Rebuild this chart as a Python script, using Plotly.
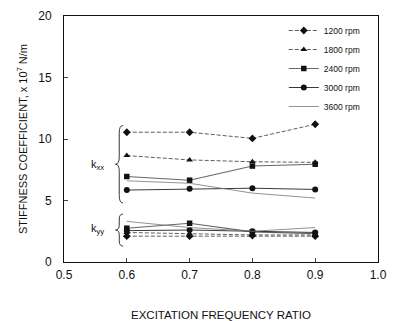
import plotly.graph_objects as go

ratio = [0.6, 0.7, 0.8, 0.9]
series_names = ["1200 rpm", "1800 rpm", "2400 rpm", "3000 rpm", "3600 rpm"]

kxx_1200 = [10.55, 10.55, 10.05, 11.2]
kxx_1800 = [8.65, 8.3, 8.15, 8.1]
kxx_2400 = [6.95, 6.65, 7.8, 7.95]
kxx_3000 = [5.85, 5.95, 6.0, 5.9]
kxx_3600 = [6.6, 6.4, 5.6, 5.2]

kyy_1200 = [2.1, 2.1, 2.15, 2.1]
kyy_1800 = [2.4, 2.3, 2.2, 2.2]
kyy_2400 = [2.75, 3.15, 2.45, 2.3]
kyy_3000 = [2.55, 2.6, 2.5, 2.4]
kyy_3600 = [3.3, 2.8, 2.5, 2.8]

x_ticks = [0.5, 0.6, 0.7, 0.8, 0.9, 1.0]
y_ticks = [0, 5, 10, 15, 20]

styles = [
    dict(symbol="diamond", dash="4px,2px", color="#333", width=0.8, msize=6),
    dict(symbol="triangle-up", dash="4px,2px", color="#333", width=0.8, msize=6),
    dict(symbol="square", dash="solid", color="#666", width=1.1, msize=5.5),
    dict(symbol="circle", dash="solid", color="#222", width=0.9, msize=6),
    dict(symbol=None, dash="solid", color="#777", width=0.8, msize=0),
]

kxx = [kxx_1200, kxx_1800, kxx_2400, kxx_3000, kxx_3600]
kyy = [kyy_1200, kyy_1800, kyy_2400, kyy_3000, kyy_3600]

fig = go.Figure()
for name, st, a, b in zip(series_names, styles, kxx, kyy):
    for i, vals in enumerate([a, b]):
        mode = "lines+markers" if st["symbol"] else "lines"
        kw = dict(line=dict(color=st["color"], width=st["width"], dash=st["dash"]))
        if st["symbol"]:
            kw["marker"] = dict(symbol=st["symbol"], size=st["msize"], color="#111")
        fig.add_trace(go.Scatter(x=ratio, y=vals, mode=mode, name=name,
                                 legendgroup=name, showlegend=(i == 0), **kw))


def brace(x, y0, y1, w, d):
    ym = (y0 + y1) / 2
    h = x + w / 2
    return (f"M {x+w},{y1} Q {h},{y1} {h},{y1-d} L {h},{ym+d} "
            f"Q {h},{ym} {x},{ym} Q {h},{ym} {h},{ym-d} L {h},{y0+d} "
            f"Q {h},{y0} {x+w},{y0}")

fig.add_shape(type="path", xref="x", yref="y", path=brace(0.582, 4.8, 11.1, 0.012, 0.6),
              line=dict(color="#222", width=0.9))
fig.add_shape(type="path", xref="x", yref="y", path=brace(0.582, 1.3, 3.9, 0.012, 0.4),
              line=dict(color="#222", width=0.9))

fig.add_annotation(x=0.553, y=7.9, xref="x", yref="y", text="k<sub>xx</sub>",
                   showarrow=False, font=dict(size=11, color="#111"))
fig.add_annotation(x=0.553, y=2.7, xref="x", yref="y", text="k<sub>yy</sub>",
                   showarrow=False, font=dict(size=11, color="#111"))

fig.update_layout(
    width=390, height=313,
    margin=dict(l=56, r=20, t=8, b=59, autoexpand=False),
    paper_bgcolor="white", plot_bgcolor="white",
    font=dict(family="Liberation Sans, Arial, sans-serif", color="#111", size=12),
    legend=dict(x=0.7, y=1.0, xanchor="left", yanchor="top",
                bgcolor="rgba(0,0,0,0)", font=dict(size=8.5),
                tracegroupgap=0, itemwidth=30),
    xaxis=dict(range=[0.5, 1.0], tickvals=x_ticks, ticktext=[f"{v:.1f}" for v in x_ticks],
               ticks="inside", ticklen=4, showgrid=False, zeroline=False,
               showline=True, linecolor="#111", linewidth=1, mirror=True,
               ticklabelstandoff=2, automargin=False,
               title=dict(text="EXCITATION FREQUENCY RATIO", font=dict(size=11.5), standoff=31)),
    yaxis=dict(range=[0, 20], tickvals=y_ticks, ticks="inside", ticklen=4,
               showgrid=False, zeroline=False,
               showline=True, linecolor="#111", linewidth=1, mirror=True,
               ticklabelstandoff=9, automargin=False,
               title=dict(text="STIFFNESS COEFFICIENT, x 10<sup>7</sup> N/m",
                          font=dict(size=11), standoff=8)),
)

fig.write_html("out.html")
